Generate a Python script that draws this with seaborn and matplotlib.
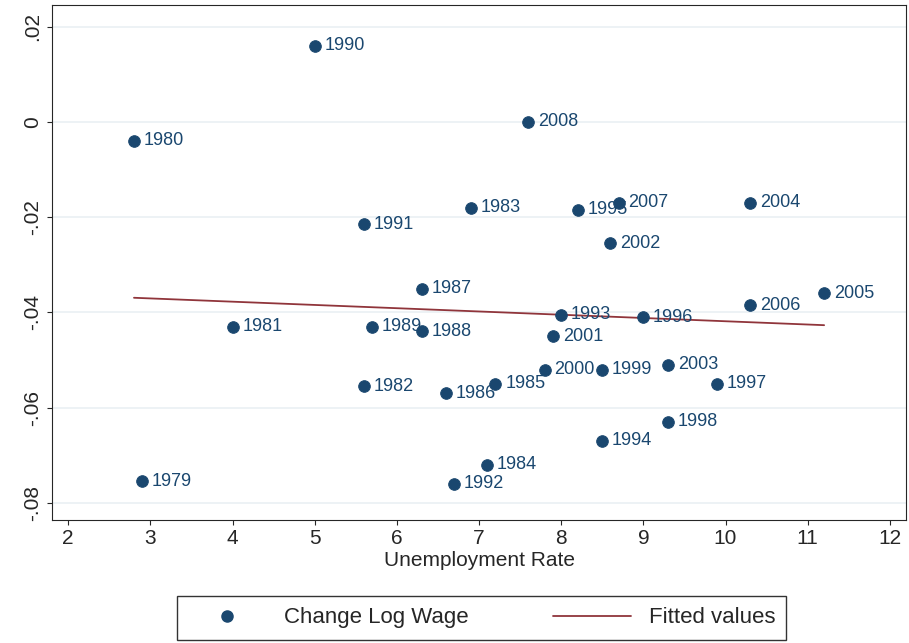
import numpy as np
import pandas as pd
import seaborn as sns
import matplotlib.pyplot as plt
from matplotlib.lines import Line2D

years = list(range(1979, 2009))
unemp = [2.9, 2.8, 4.0, 5.6, 6.9, 7.1, 7.2, 6.6, 6.3, 6.3,
         5.7, 5.0, 5.6, 6.7, 8.0, 8.5, 8.2, 9.0, 9.9, 9.3,
         8.5, 7.8, 7.9, 8.6, 9.3, 10.3, 11.2, 10.3, 8.7, 7.6]
dwage = [-0.0755, -0.004, -0.043, -0.0555, -0.018, -0.072, -0.055, -0.057, -0.035, -0.044,
         -0.043, 0.016, -0.0215, -0.076, -0.0405, -0.067, -0.0185, -0.041, -0.055, -0.063,
         -0.052, -0.052, -0.045, -0.0255, -0.051, -0.017, -0.036, -0.0385, -0.017, 0.0]

df = pd.DataFrame({"year": years, "u": unemp, "w": dwage})
b, a = np.polyfit(df["u"], df["w"], 1)
xs = np.array([df["u"].min(), df["u"].max()])

sns.set_style("ticks")
plt.rcParams["font.family"] = ["Liberation Sans", "DejaVu Sans"]
fig = plt.figure(figsize=(9.09, 6.43), dpi=100)
ax = fig.add_axes([0.057, 0.192, 0.94, 0.8])

navy = "#1a476f"
red = "#90353b"
ax.yaxis.grid(True, color="#eaf0f4", lw=1.2)
ax.set_axisbelow(True)
sns.scatterplot(data=df, x="u", y="w", ax=ax, color=navy, s=70, edgecolor=navy,
                legend=False, zorder=3)
ax.plot(xs, a + b * xs, color=red, lw=1.3)
for _, r in df.iterrows():
    ax.annotate(str(int(r["year"])), (r["u"], r["w"]), xytext=(7, 0), textcoords="offset points",
                va="center", ha="left", fontsize=13, color=navy)

ax.set_xlim(1.8, 12.2)
ax.set_ylim(-0.0835, 0.0245)
ax.set_xticks(range(2, 13))
ax.set_yticks([-0.08, -0.06, -0.04, -0.02, 0, 0.02])
ax.set_yticklabels(["-.08", "-.06", "-.04", "-.02", "0", ".02"], rotation=90, va="center")
ax.tick_params(labelsize=15)
ax.set_xlabel("Unemployment Rate", fontsize=15, labelpad=2)
ax.set_ylabel("")

handles = [Line2D([], [], marker="o", ls="", color=navy, markersize=8),
           Line2D([], [], color=red, lw=1.3)]
fig.legend(handles, ["Change Log Wage", "Fitted values"], loc="lower center",
           bbox_to_anchor=(0.53, -0.012), ncol=2, fontsize=16, frameon=True,
           fancybox=False, edgecolor="black", handlelength=3.5, columnspacing=3.8,
           borderpad=0.5)
fig.savefig("out.png", dpi=100)
